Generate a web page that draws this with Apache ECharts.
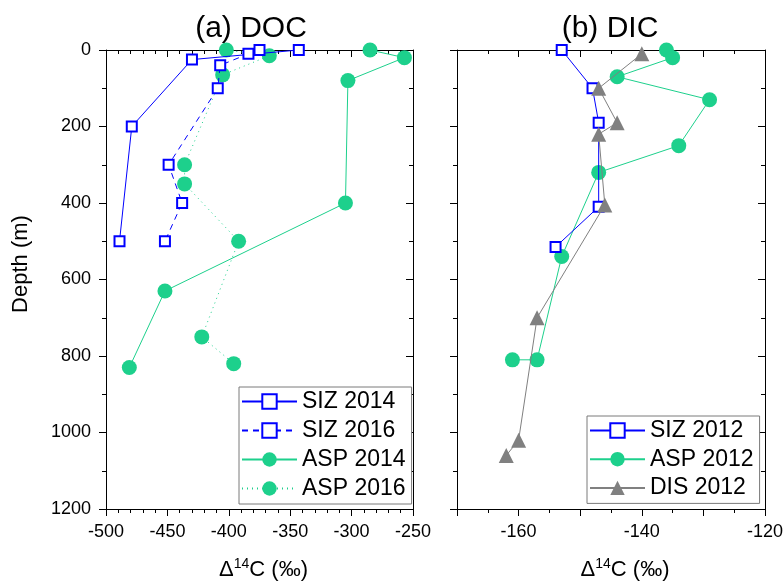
<!DOCTYPE html>
<html>
<head>
<meta charset="utf-8">
<script src="https://cdn.jsdelivr.net/npm/echarts@6/dist/echarts.min.js"></script>
<style>html,body{margin:0;padding:0;background:#fff}#c{width:783px;height:582px}</style>
</head>
<body>
<div id="c"></div>
<script>
// ---- DOC panel (a) ----
const docDepthSIZ2014 = [0, 25, 200, 500];
const docSIZ2014 = [-343, -430, -479, -489];
const docDepthSIZ2016 = [0, 10, 40, 100, 300, 400, 500];
const docSIZ2016 = [-375, -384, -407, -409, -449, -438, -452];
const docDepthASP2014 = [0, 20, 80, 400, 630, 830];
const docASP2014 = [-285, -257, -303, -305, -452, -481];
const docDepthASP2016 = [0, 15, 65, 300, 350, 500, 750, 820];
const docASP2016 = [-402, -367, -405, -436, -436, -392, -422, -396];
// ---- DIC panel (b) ----
const dicDepthSIZ2012 = [0, 100, 190, 410, 515];
const dicSIZ2012 = [-153, -148, -147, -147, -154];
const dicDepthASP2012 = [0, 20, 70, 130, 250, 320, 540, 810, 810];
const dicASP2012 = [-136, -135, -144, -129, -134, -147, -153, -157, -161];
const dicDepthDIS2012 = [10, 100, 190, 220, 405, 700, 1020, 1060];
const dicDIS2012 = [-140, -147, -144, -147, -146, -157, -160, -162];

const titles = ['(a) DOC', '(b) DIC'];
const legendA = ['SIZ 2014', 'SIZ 2016', 'ASP 2014', 'ASP 2016'];
const legendB = ['SIZ 2012', 'ASP 2012', 'DIS 2012'];

const FONT = 'Liberation Sans, Arial, sans-serif';
const BLUE = '#0000ff', GREEN = '#1dd08c', GRAY = '#808080';

function pairs(xs, ys) { return xs.map((v, i) => [v, ys[i]]); }

const xName = '{t|Δ}{s|14}{t|C (‰)}';
function xNameStyle(padLeft) {
  return {
    padding: [0, 0, 0, padLeft],
    rich: {
      t: { fontSize: 22, fontFamily: FONT, color: '#000', lineHeight: 26 },
      s: { fontSize: 14, fontFamily: FONT, color: '#000', verticalAlign: 'top', lineHeight: 26 }
    }
  };
}

function mainX(gridIndex, min, max, interval, minorSplit, fmt, padLeft) {
  return {
    type: 'value', gridIndex, position: 'bottom', min, max, interval,
    name: xName, nameLocation: 'middle', nameGap: 48, nameTextStyle: xNameStyle(padLeft),
    axisLine: { show: true, onZero: false, lineStyle: { color: '#000', width: 1 } },
    axisTick: { show: true, inside: false, length: 7, lineStyle: { color: '#000' } },
    minorTick: { show: true, splitNumber: minorSplit, length: 4, lineStyle: { color: '#000' } },
    axisLabel: { show: true, fontSize: 18, fontFamily: FONT, color: '#000', margin: 14, formatter: fmt,
      showMinLabel: true, showMaxLabel: true },
    splitLine: { show: false }
  };
}
function mirrorX(gridIndex, min, max, interval, minorSplit) {
  return {
    type: 'value', gridIndex, position: 'top', min, max, interval,
    axisLine: { show: true, onZero: false, lineStyle: { color: '#000', width: 1 } },
    axisTick: { show: true, inside: true, length: 7, lineStyle: { color: '#000' } },
    minorTick: { show: true, splitNumber: minorSplit, length: 4, lineStyle: { color: '#000' } },
    axisLabel: { show: false }, splitLine: { show: false }
  };
}
function yAx(gridIndex, position, labels, mirror) {
  const o = {
    type: 'value', gridIndex, position, inverse: true, min: 0, max: 1200, interval: 200,
    axisLine: { show: true, onZero: false, lineStyle: { color: '#000', width: 1 } },
    axisTick: { show: true, inside: mirror, length: 7, lineStyle: { color: '#000' } },
    minorTick: { show: true, splitNumber: 2, length: 4, lineStyle: { color: '#000' } },
    axisLabel: { show: labels, fontSize: 18, fontFamily: FONT, color: '#000', margin: 15,
      formatter: v => String(v) },
    splitLine: { show: false }
  };
  if (labels) {
    o.name = 'Depth (m)'; o.nameLocation = 'middle'; o.nameGap = 74;
    o.nameTextStyle = { fontSize: 22, fontFamily: FONT, color: '#000', padding: [0, 0, 0, 31] };
  }
  return o;
}

function squareSeries(name, xs, ys, xi, yi, lineType) {
  return {
    name, type: 'line', xAxisIndex: xi, yAxisIndex: yi, data: pairs(xs, ys),
    symbol: 'rect', symbolSize: 10, z: 3,
    lineStyle: { color: BLUE, width: 1, type: lineType },
    itemStyle: { color: '#fff', borderColor: BLUE, borderWidth: 2 }
  };
}
function circleSeries(name, xs, ys, xi, yi, lineType) {
  return {
    name, type: 'line', xAxisIndex: xi, yAxisIndex: yi, data: pairs(xs, ys),
    symbol: 'circle', symbolSize: 15, z: 2,
    lineStyle: { color: GREEN, width: 1, type: lineType },
    itemStyle: { color: GREEN, borderWidth: 0 }
  };
}
function triSeries(name, xs, ys, xi, yi) {
  return {
    name, type: 'line', xAxisIndex: xi, yAxisIndex: yi, data: pairs(xs, ys),
    symbol: 'triangle', symbolSize: 15, z: 4,
    lineStyle: { color: GRAY, width: 1, type: 'solid' },
    itemStyle: { color: GRAY, borderWidth: 0 }
  };
}

function legendCfg(data, left, top, gap) {
  return {
    data, orient: 'vertical', left, top,
    itemWidth: 55, itemHeight: 18, itemGap: gap,
    padding: [3, 6, 4, 2],
    borderColor: '#7a7a7a', borderWidth: 1, borderRadius: 0, backgroundColor: '#fff',
    textStyle: { fontSize: 23, fontFamily: FONT, color: '#000', lineHeight: 23 },
    selectedMode: false
  };
}

const chart = echarts.init(document.getElementById('c'), null, { renderer: 'canvas' });
chart.setOption({
  animation: false,
  backgroundColor: '#fff',
  title: [
    { text: titles[0], left: 246, top: 9, textAlign: 'center',
      textStyle: { fontSize: 30, fontWeight: 'normal', fontFamily: FONT, color: '#000' } },
    { text: titles[1], left: 605, top: 9, textAlign: 'center',
      textStyle: { fontSize: 30, fontWeight: 'normal', fontFamily: FONT, color: '#000' } }
  ],
  grid: [
    { left: 106, right: 370, top: 50, bottom: 73, outerBoundsMode: 'none', containLabel: false },
    { left: 457, right: 18, top: 50, bottom: 73, outerBoundsMode: 'none', containLabel: false }
  ],
  xAxis: [
    mainX(0, -500, -250, 50, 5, v => String(v), 8),
    mainX(1, -170, -120, 10, 2, v => (Math.round(v) % 20 === 0 ? String(v) : ''), 28),
    mirrorX(0, -500, -250, 50, 5),
    mirrorX(1, -170, -120, 10, 2)
  ],
  yAxis: [
    yAx(0, 'left', true, false),
    yAx(1, 'left', false, false),
    yAx(0, 'right', false, true),
    yAx(1, 'right', false, true)
  ],
  legend: [
    legendCfg(legendA, 239, 387, 6),
    legendCfg(legendB, 587, 416, 5.7)
  ],
  series: [
    circleSeries('ASP 2014', docASP2014, docDepthASP2014, 0, 0, 'solid'),
    circleSeries('ASP 2016', docASP2016, docDepthASP2016, 0, 0, [1, 4]),
    squareSeries('SIZ 2014', docSIZ2014, docDepthSIZ2014, 0, 0, 'solid'),
    squareSeries('SIZ 2016', docSIZ2016, docDepthSIZ2016, 0, 0, [6, 5]),
    squareSeries('SIZ 2012', dicSIZ2012, dicDepthSIZ2012, 1, 1, 'solid'),
    circleSeries('ASP 2012', dicASP2012, dicDepthASP2012, 1, 1, 'solid'),
    triSeries('DIS 2012', dicDIS2012, dicDepthDIS2012, 1, 1)
  ]
});
</script>
</body>
</html>
